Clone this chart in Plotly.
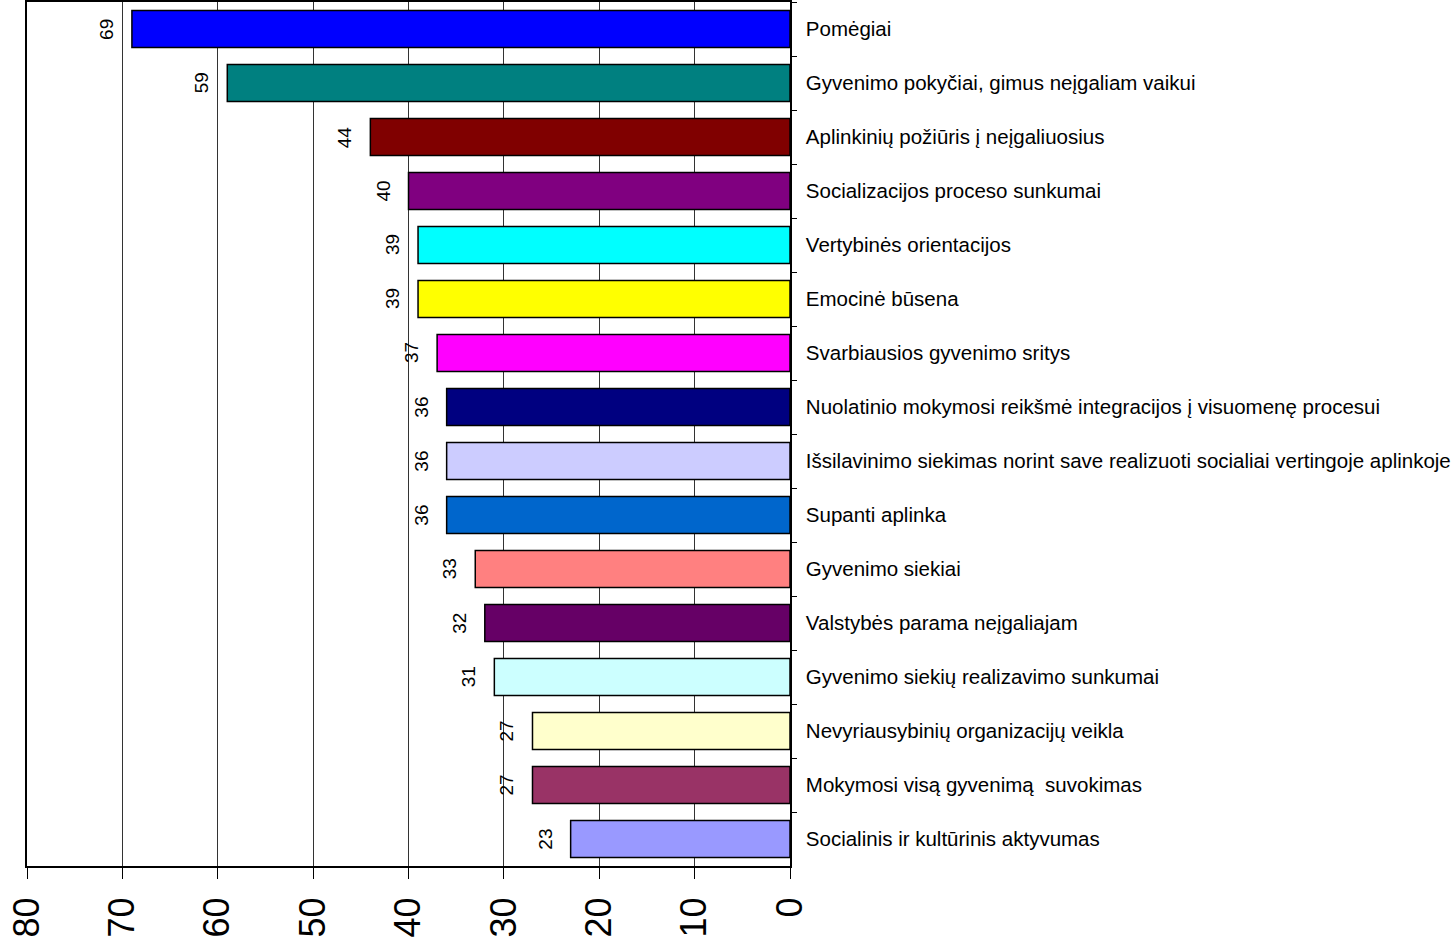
import plotly.graph_objects as go

categories = [
    "Pomėgiai",
    "Gyvenimo pokyčiai, gimus neįgaliam vaikui",
    "Aplinkinių požiūris į neįgaliuosius",
    "Socializacijos proceso sunkumai",
    "Vertybinės orientacijos",
    "Emocinė būsena",
    "Svarbiausios gyvenimo sritys",
    "Nuolatinio mokymosi reikšmė integracijos į visuomenę procesui",
    "Išsilavinimo siekimas norint save realizuoti socialiai vertingoje aplinkoje",
    "Supanti aplinka",
    "Gyvenimo siekiai",
    "Valstybės parama neįgaliajam",
    "Gyvenimo siekių realizavimo sunkumai",
    "Nevyriausybinių organizacijų veikla",
    "Mokymosi visą gyvenimą  suvokimas",
    "Socialinis ir kultūrinis aktyvumas",
]
values = [69, 59, 44, 40, 39, 39, 37, 36, 36, 36, 33, 32, 31, 27, 27, 23]
colors = [
    "#0000FF", "#008080", "#800000", "#800080", "#00FFFF", "#FFFF00",
    "#FF00FF", "#000080", "#CCCCFF", "#0066CC", "#FF8080", "#660066",
    "#CCFFFF", "#FFFFCC", "#993366", "#9999FF",
]
x_ticks = [0, 10, 20, 30, 40, 50, 60, 70, 80]

FONT = "Liberation Sans, Arial, sans-serif"

fig = go.Figure()
fig.add_trace(go.Bar(
    x=values,
    y=categories,
    orientation="h",
    marker=dict(color=colors, line=dict(color="#000000", width=1.5)),
    hoverinfo="x+y",
))

for cat, v in zip(categories, values):
    fig.add_annotation(
        x=v, y=cat, xref="x", yref="y",
        text=str(v), showarrow=False, textangle=-90,
        xanchor="center", yanchor="middle", xshift=-26,
        font=dict(family=FONT, size=19, color="#000000"),
    )

fig.update_layout(
    width=1456, height=943,
    margin=dict(l=27, r=666, t=2, b=77, autoexpand=False),
    plot_bgcolor="#FFFFFF",
    paper_bgcolor="#FFFFFF",
    bargap=0.315,
    showlegend=False,
    font=dict(family=FONT, color="#000000"),
)
fig.update_xaxes(
    range=[80, 0],
    tickvals=x_ticks,
    ticktext=[str(t) for t in x_ticks],
    tickangle=-90,
    tickfont=dict(family=FONT, size=36, color="#000000"),
    ticks="outside", ticklen=11, tickcolor="#000000", tickwidth=1,
    ticklabelstandoff=4,
    showgrid=True, gridcolor="#333333", gridwidth=1,
    showline=True, linecolor="#000000", linewidth=2, mirror=True,
    zeroline=False,
    automargin=False,
)
fig.update_yaxes(
    type="category",
    categoryorder="array",
    categoryarray=categories,
    autorange="reversed",
    side="right",
    ticks="outside", ticklen=5, tickcolor="#000000", tickson="boundaries",
    tickfont=dict(family=FONT, size=20.5, color="#000000"),
    ticklabelstandoff=10,
    showgrid=False,
    showline=True, linecolor="#000000", linewidth=1.5, mirror=True,
    automargin=False,
)

fig.write_html(
    "out.html",
    config={"displayModeBar": False},
    post_script="document.body.style.margin='0';",
)
